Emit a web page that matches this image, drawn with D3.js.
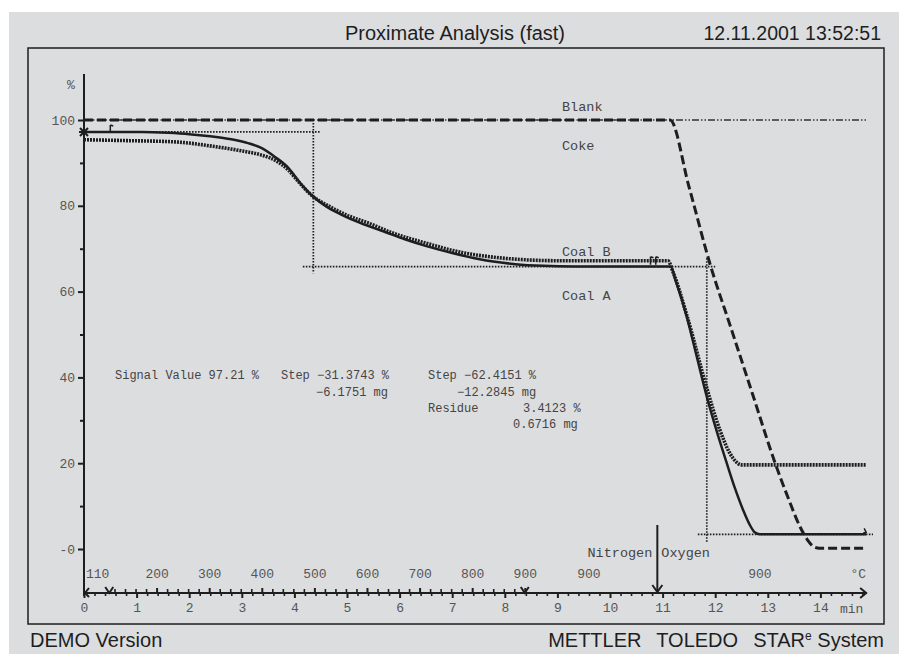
<!DOCTYPE html>
<html><head><meta charset="utf-8">
<script src="https://cdn.jsdelivr.net/npm/d3@7"></script>
<style>
html,body{margin:0;padding:0;background:#fff;}
svg{display:block;}
</style></head><body>
<svg id="chart" width="899" height="654"></svg>
<script>
// ---- data: time in min, signal in % ----
const percentTicks = [0, 20, 40, 60, 80, 100];
const percentMinor = [10, 30, 50, 70, 90];
const timeTicks = d3.range(0, 15, 1);
const tempTicks = [200, 300, 400, 500, 600, 700, 800, 900];
const isoTempTimes = [9.6, 12.85];
const isoTempLabel = "900";

// temperature program: 110 °C hold, 100 K/min ramp to 900 °C, hold
const rampStart = 0.48, rampStartTemp = 110, rampEndTemp = 900, rampRate = 100;
const gasSwitchTime = 10.9;

const curveNames = ["Blank", "Coke", "Coal B", "Coal A"];

const blankT = [0, 14.87];
const blankV = [100, 100];

const cokeT = [0, 11.14, 11.5, 11.9, 12.3, 12.7, 13.14, 13.4, 13.6, 13.75, 13.88, 13.98, 14.87];
const cokeV = [100, 100, 84.5, 66.5, 51.5, 36.5, 20.0, 11.5, 5.5, 2.2, 0.5, 0.2, 0.2];

const coalAT = [0, 0.5, 1.1, 1.6, 2.0, 2.4, 2.8, 3.12, 3.35, 3.63, 3.88, 4.1, 4.36, 4.61, 4.9, 5.25, 5.7, 6.1, 6.51, 7.0, 7.5, 7.78, 8.2, 8.73, 9.3, 10.5, 11.15, 11.25, 11.46, 11.65, 11.84, 12.03, 12.22, 12.38, 12.53, 12.65, 12.75, 12.85, 14.87];
const coalAV = [97.21, 97.21, 97.2, 97.0, 96.7, 96.2, 95.5, 94.6, 93.6, 91.4, 88.9, 85.5, 82.1, 79.8, 77.9, 76.0, 74.0, 72.2, 70.6, 69.0, 67.6, 67.0, 66.4, 66.0, 65.84, 65.84, 65.84, 62.5, 54.1, 44.8, 35.5, 27.4, 20.0, 14.0, 9.1, 5.8, 3.9, 3.41, 3.41];

const coalBT = [0, 0.8, 1.73, 2.49, 3.0, 3.38, 3.65, 3.88, 4.1, 4.36, 4.6, 5.0, 5.4, 5.88, 6.5, 7.15, 7.8, 8.42, 9.0, 10.0, 11.1, 11.2, 11.46, 11.84, 12.09, 12.28, 12.4, 12.5, 14.87];
const coalBV = [95.4, 95.2, 94.9, 93.8, 92.8, 91.8, 90.5, 88.4, 85.3, 82.1, 80.3, 77.8, 76.0, 73.6, 71.3, 69.2, 68.0, 67.4, 67.2, 67.2, 67.2, 64.5, 54.5, 37.5, 27.7, 22.3, 20.3, 19.6, 19.6];

// evaluation results
const signalValue = 97.21;
const step1 = -31.3743, step1mg = -6.1751;
const step2 = -62.4151, step2mg = -12.2845;
const residue = 3.4123, residueMg = 0.6716;
const step1Mid = 4.36, step2Mid = 11.84;

// ---- layout ----
const svg = d3.select("#chart");
const MONO = "'Liberation Mono','DejaVu Sans Mono',monospace";
const SANS = "'Liberation Sans',Arial,sans-serif";
const INK = "#1e1e1e";
const LABEL = "#555";

svg.append("rect").attr("x", 9).attr("y", 12).attr("width", 890).attr("height", 642).attr("fill", "#dcdddf");
svg.append("rect").attr("x", 28).attr("y", 48).attr("width", 856).attr("height", 576)
  .attr("fill", "none").attr("stroke", INK).attr("stroke-width", 1.5);

svg.append("text").attr("x", 455).attr("y", 40).attr("text-anchor", "middle")
  .attr("font-family", SANS).attr("font-size", 20).attr("fill", INK).text("Proximate Analysis (fast)");
svg.append("text").attr("x", 881).attr("y", 40).attr("text-anchor", "end")
  .attr("font-family", SANS).attr("font-size", 19.5).attr("fill", INK).text("12.11.2001 13:52:51");
svg.append("text").attr("x", 30).attr("y", 647)
  .attr("font-family", SANS).attr("font-size", 20).attr("fill", INK).text("DEMO Version");
const brand = svg.append("text").attr("x", 884).attr("y", 647).attr("text-anchor", "end")
  .attr("font-family", SANS).attr("font-size", 20).attr("fill", INK).attr("xml:space", "preserve");
brand.append("tspan").attr("word-spacing", 2).text("METTLER  TOLEDO  STAR");
brand.append("tspan").attr("font-size", 12).attr("dy", -7).text("e");
brand.append("tspan").attr("dy", 7).text(" System");

const x = d3.scaleLinear().domain([0, 14]).range([84, 820.4]);
const y = d3.scaleLinear().domain([0, 100]).range([549, 120]);
const xAxisY = 593;

// ---- y axis ----
const yAxis = svg.append("g").attr("transform", `translate(${x(0)},0)`)
  .call(d3.axisLeft(y).tickValues(percentTicks).tickSize(6).tickPadding(3)
    .tickFormat(d => d === 0 ? "-0" : d));
yAxis.select(".domain").remove();
yAxis.selectAll("line").attr("stroke", INK).attr("stroke-width", 2);
yAxis.selectAll("text").attr("font-family", MONO).attr("font-size", 13).attr("fill", LABEL);
const yMinor = svg.append("g").attr("transform", `translate(${x(0)},0)`)
  .call(d3.axisLeft(y).tickValues(percentMinor).tickSize(4).tickFormat(""));
yMinor.select(".domain").remove();
yMinor.selectAll("line").attr("stroke", INK).attr("stroke-width", 2);
svg.append("line").attr("x1", x(0)).attr("x2", x(0)).attr("y1", y(110.7)).attr("y2", xAxisY + 3)
  .attr("stroke", INK).attr("stroke-width", 2);
svg.append("text").attr("x", 71).attr("y", 89).attr("text-anchor", "middle")
  .attr("font-family", MONO).attr("font-size", 13).attr("fill", LABEL).text("%");

// ---- time axis ----
const tEnd = 14.87;
svg.append("line").attr("x1", x(0)).attr("x2", x(tEnd)).attr("y1", xAxisY).attr("y2", xAxisY)
  .attr("stroke", INK).attr("stroke-width", 2);
svg.append("path").attr("d", `M${x(tEnd) - 6},${xAxisY - 5}L${x(tEnd)},${xAxisY}L${x(tEnd) - 6},${xAxisY + 5}`)
  .attr("fill", "none").attr("stroke", INK).attr("stroke-width", 2);
svg.append("path").attr("d", `M${x(0) + 5},${xAxisY - 5}L${x(0) + 1},${xAxisY}L${x(0) + 5},${xAxisY + 4}`)
  .attr("fill", "none").attr("stroke", INK).attr("stroke-width", 2);

const tAxis = svg.append("g").attr("transform", `translate(0,${xAxisY})`)
  .call(d3.axisBottom(x).tickValues(timeTicks).tickSize(5).tickPadding(5));
tAxis.select(".domain").remove();
tAxis.selectAll("line").attr("stroke", INK).attr("stroke-width", 2);
tAxis.selectAll("text").attr("font-family", MONO).attr("font-size", 13).attr("fill", LABEL);
const tMinor = svg.append("g").attr("transform", `translate(0,${xAxisY})`)
  .call(d3.axisBottom(x).tickValues(d3.range(0, 14.81, 0.2).filter(v => Math.abs(v - Math.round(v)) > 0.01)).tickSize(3).tickFormat(""));
tMinor.select(".domain").remove();
tMinor.selectAll("line").attr("stroke", INK).attr("stroke-width", 1.6);
svg.append("text").attr("x", 840).attr("y", xAxisY + 19.5)
  .attr("font-family", MONO).attr("font-size", 13).attr("fill", LABEL).text("min");

// ---- temperature axis (ramp segment) ----
const rampEnd = rampStart + (rampEndTemp - rampStartTemp) / rampRate;
const temp = d3.scaleLinear().domain([rampStartTemp, rampEndTemp]).range([x(rampStart), x(rampEnd)]);
const tempAxis = svg.append("g").attr("transform", `translate(0,${xAxisY})`)
  .call(d3.axisTop(temp).tickValues(tempTicks).tickSize(5).tickPadding(10));
tempAxis.select(".domain").remove();
tempAxis.selectAll("line").attr("stroke", INK).attr("stroke-width", 2);
tempAxis.selectAll("text").attr("font-family", MONO).attr("font-size", 13).attr("fill", LABEL);
const tempMinor = svg.append("g").attr("transform", `translate(0,${xAxisY})`)
  .call(d3.axisTop(temp).tickValues(d3.range(120, 900, 20).filter(v => v % 100 !== 0)).tickSize(4).tickFormat(""));
tempMinor.select(".domain").remove();
tempMinor.selectAll("line").attr("stroke", INK).attr("stroke-width", 1.6);
svg.append("text").attr("x", x(0) + 2).attr("y", xAxisY - 15)
  .attr("font-family", MONO).attr("font-size", 13).attr("fill", LABEL).text(String(rampStartTemp));
svg.selectAll("text.iso").data(isoTempTimes).enter().append("text").attr("class", "iso")
  .attr("x", d => x(d)).attr("y", xAxisY - 15).attr("text-anchor", "middle")
  .attr("font-family", MONO).attr("font-size", 13).attr("fill", LABEL).text(isoTempLabel);
svg.append("text").attr("x", 866).attr("y", xAxisY - 15).attr("text-anchor", "end")
  .attr("font-family", MONO).attr("font-size", 13).attr("fill", LABEL).text("°C");
// segment boundaries
[rampStart, rampEnd].forEach(t => {
  svg.append("path").attr("d", `M${x(t) - 4},${xAxisY - 6}L${x(t)},${xAxisY}L${x(t) + 4},${xAxisY - 6}`)
    .attr("fill", "none").attr("stroke", INK).attr("stroke-width", 2);
});

// gas switch
svg.append("line").attr("x1", x(gasSwitchTime)).attr("x2", x(gasSwitchTime)).attr("y1", 525).attr("y2", xAxisY - 1)
  .attr("stroke", INK).attr("stroke-width", 2);
svg.append("path").attr("d", `M${x(gasSwitchTime) - 5},${xAxisY - 8}L${x(gasSwitchTime)},${xAxisY - 1}L${x(gasSwitchTime) + 5},${xAxisY - 8}`)
  .attr("fill", "none").attr("stroke", INK).attr("stroke-width", 2);
svg.append("text").attr("x", x(gasSwitchTime) - 5).attr("y", 557).attr("text-anchor", "end")
  .attr("font-family", MONO).attr("font-size", 13.5).attr("fill", "#444").text("Nitrogen");
svg.append("text").attr("x", x(gasSwitchTime) + 4).attr("y", 557)
  .attr("font-family", MONO).attr("font-size", 13.5).attr("fill", "#444").text("Oxygen");

// ---- evaluation construction lines ----
const evalLine = (x1, y1, x2, y2) => svg.append("line")
  .attr("x1", x1).attr("y1", y1).attr("x2", x2).attr("y2", y2)
  .attr("stroke", INK).attr("stroke-width", 1.7).attr("stroke-dasharray", "1.6 1.4");
const step1Low = signalValue + step1;
const step2Low = step1Low + step2;
evalLine(x(0), y(signalValue), x(4.49), y(signalValue));
evalLine(x(step1Mid), y(99.3), x(step1Mid), y(64.3));
evalLine(x(4.16), y(step1Low), x(12.0), y(step1Low));
evalLine(x(step2Mid), y(67.8), x(step2Mid), y(1.4));
evalLine(x(11.67), y(step2Low), x(15.0), y(step2Low));

// ---- curves ----
const line = d3.line().x(d => x(d[0])).y(d => y(d[1])).curve(d3.curveMonotoneX);
const zip = (a, b) => a.map((v, i) => [v, b[i]]);

svg.append("path").datum(zip(blankT, blankV)).attr("d", line)
  .attr("fill", "none").attr("stroke", "#333").attr("stroke-width", 1.6).attr("stroke-dasharray", "7 2 1.5 2 1.5 2");
svg.append("path").datum(zip(cokeT, cokeV)).attr("d", line)
  .attr("fill", "none").attr("stroke", INK).attr("stroke-width", 3).attr("stroke-dasharray", "9 4");
svg.append("path").datum(zip(coalBT, coalBV)).attr("d", line)
  .attr("fill", "none").attr("stroke", INK).attr("stroke-width", 3.6).attr("stroke-dasharray", "2 1");
svg.append("path").datum(zip(coalAT, coalAV)).attr("d", line)
  .attr("fill", "none").attr("stroke", INK).attr("stroke-width", 2.5);

// limit markers
const mark = (px, py) => svg.append("path").attr("d", `M${px},${py - 4}L${px},${py + 4}M${px},${py - 4}L${px + 3},${py - 3}`)
  .attr("fill", "none").attr("stroke", INK).attr("stroke-width", 1.5);
mark(x(0.5), y(signalValue) - 3);
mark(x(10.77), y(67.2));
mark(x(10.87), y(67.2));
svg.append("path").attr("d", `M${x(14.87) - 2},${y(step2Low) - 6}L${x(14.87)},${y(step2Low) - 2}L${x(14.87) - 3},${y(step2Low) - 1}`)
  .attr("fill", "none").attr("stroke", INK).attr("stroke-width", 1.5);
// signal value marker
const sx = x(0), sy = y(signalValue);
svg.append("path").attr("d", `M${sx - 4},${sy - 4}L${sx + 4},${sy + 4}M${sx - 4},${sy + 4}L${sx + 4},${sy - 4}M${sx - 5},${sy}L${sx + 5},${sy}`)
  .attr("stroke", INK).attr("stroke-width", 2);

// ---- curve labels ----
const labelY = [106.7, 145, 251.7, 295];
curveNames.forEach((n, i) => {
  svg.append("text").attr("x", 562).attr("y", labelY[i]).attr("dy", "0.35em")
    .attr("font-family", MONO).attr("font-size", 13.5).attr("fill", "#444").text(n);
});

// ---- results ----
const fmt = d3.format(".4f");
const resLines = [
  {x: 115, y: 375, t: `Signal Value ${signalValue} %`},
  {x: 281, y: 375, t: `Step ${fmt(step1)} %`},
  {x: 316, y: 391.5, t: `${fmt(step1mg)} mg`},
  {x: 428, y: 375, t: `Step ${fmt(step2)} %`},
  {x: 457, y: 391.5, t: `${fmt(step2mg)} mg`},
  {x: 428, y: 407.5, t: "Residue"},
  {x: 523, y: 407.5, t: `${fmt(residue)} %`},
  {x: 513, y: 423.5, t: `${fmt(residueMg)} mg`}
];
svg.selectAll("text.res").data(resLines).enter().append("text").attr("class", "res")
  .attr("x", d => d.x).attr("y", d => d.y).attr("dy", "0.35em")
  .attr("font-family", MONO).attr("font-size", 12).attr("fill", "#444").text(d => d.t);
</script>
</body></html>
